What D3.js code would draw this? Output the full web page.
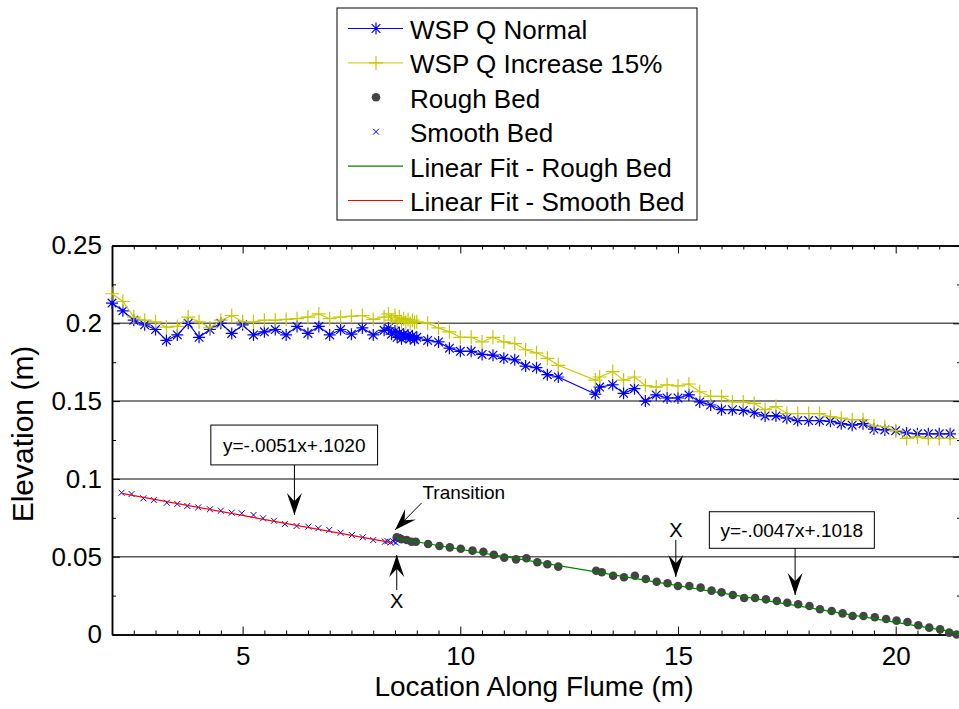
<!DOCTYPE html>
<html>
<head>
<meta charset="utf-8">
<script src="https://cdn.jsdelivr.net/npm/d3@7"></script>
<style>
  body { margin: 0; background: #fff; }
  svg { display: block; font-family: "Liberation Sans", Arial, Helvetica, sans-serif; }
</style>
</head>
<body>
<svg width="959" height="709"></svg>
<script>
// Water surface profiles (shared stations along the flume)
const wspX = [2.0, 2.25, 2.5, 2.75, 3.0, 3.25, 3.5, 3.75, 4.0, 4.25, 4.5, 4.75, 5.0, 5.25, 5.5, 5.75,
  6.0, 6.25, 6.5, 6.75, 7.0, 7.25, 7.5, 7.75, 8.0, 8.25,
  8.35, 8.42, 8.5, 8.55, 8.6, 8.65, 8.7, 8.75, 8.8, 8.85, 8.9, 8.95, 9.0,
  9.25, 9.5, 9.75, 10.0, 10.25, 10.5, 10.75, 11.0, 11.25, 11.5, 11.75, 12.0, 12.25,
  13.1, 13.2, 13.5, 13.75, 14.0, 14.25, 14.5, 14.75, 15.0, 15.25, 15.5, 15.75, 16.0, 16.25,
  16.5, 16.75, 17.0, 17.25, 17.5, 17.75, 18.0, 18.25, 18.5, 18.75, 19.0, 19.25, 19.5, 19.75,
  20.0, 20.25, 20.5, 20.75, 21.0, 21.25];
const wspNormal = [0.213, 0.208, 0.202, 0.199, 0.196, 0.189, 0.1925, 0.200, 0.191, 0.196, 0.200, 0.1935, 0.199, 0.1925, 0.1945, 0.196,
  0.1925, 0.198, 0.1935, 0.198, 0.1925, 0.196, 0.193, 0.197, 0.1925, 0.1955,
  0.197, 0.193, 0.195, 0.191, 0.194, 0.190, 0.193, 0.191, 0.1925, 0.190, 0.192, 0.1895, 0.191,
  0.189, 0.188, 0.184, 0.182, 0.182, 0.180, 0.1795, 0.1775, 0.1765, 0.1725, 0.1715, 0.167, 0.1655,
  0.1545, 0.159, 0.1605, 0.155, 0.158, 0.150, 0.154, 0.152, 0.152, 0.154, 0.1495, 0.1475, 0.1445, 0.1445,
  0.144, 0.1425, 0.1405, 0.1405, 0.139, 0.1375, 0.1375, 0.1375, 0.137, 0.1355, 0.1345, 0.1355, 0.132, 0.1315,
  0.131, 0.1295, 0.129, 0.129, 0.129, 0.129];
const wspIncrease = [0.219, 0.214, 0.204, 0.202, 0.201, 0.1975, 0.198, 0.204, 0.201, 0.197, 0.202, 0.205, 0.201, 0.201, 0.202, 0.202,
  0.2025, 0.203, 0.204, 0.206, 0.203, 0.204, 0.2045, 0.205, 0.2025, 0.204,
  0.206, 0.202, 0.205, 0.201, 0.204, 0.2005, 0.203, 0.2005, 0.2025, 0.200, 0.202, 0.2005, 0.201,
  0.200, 0.197, 0.1945, 0.191, 0.191, 0.188, 0.191, 0.188, 0.187, 0.183, 0.181, 0.1775, 0.173,
  0.1635, 0.1655, 0.169, 0.1635, 0.1655, 0.160, 0.159, 0.1605, 0.1597, 0.161, 0.156, 0.153, 0.153, 0.1495,
  0.1495, 0.1485, 0.1445, 0.1465, 0.142, 0.142, 0.142, 0.142, 0.140, 0.139, 0.138, 0.138, 0.134, 0.1335,
  0.131, 0.126, 0.127, 0.126, 0.126, 0.126];

// Bed elevations
const smoothX = [2.22, 2.45, 2.72, 2.96, 3.26, 3.5, 3.73, 3.98, 4.25, 4.5, 4.75, 4.98, 5.25, 5.47, 5.72, 5.97,
  6.24, 6.51, 6.74, 6.99, 7.25, 7.51, 7.76, 8.0, 8.27, 8.33, 8.4, 8.46, 8.52];
const smoothY = [0.0911, 0.0903, 0.0875, 0.0864, 0.0847, 0.0839, 0.0826, 0.0817, 0.0805, 0.0796, 0.0783, 0.0779, 0.0768, 0.0747, 0.0731, 0.0710,
  0.0697, 0.0693, 0.0683, 0.0672, 0.0654, 0.0639, 0.0625, 0.0607, 0.0596, 0.0600, 0.0592, 0.0598, 0.0590];
const roughX = [8.54, 8.6, 8.65, 8.77, 8.88, 8.98, 9.26, 9.52, 9.76, 10.01, 10.28, 10.53, 10.77, 11.01, 11.28, 11.52, 11.77, 12.0, 12.25,
  13.12, 13.25, 13.51, 13.76, 14.01, 14.26, 14.51, 14.76, 15.0, 15.26, 15.52, 15.77, 16.0, 16.26, 16.52, 16.77, 17.02, 17.27,
  17.51, 17.76, 18.02, 18.26, 18.53, 18.78, 19.01, 19.26, 19.52, 19.78, 20.02, 20.27, 20.52, 20.77, 21.02, 21.23, 21.4];
const roughY = [0.0625, 0.0620, 0.0612, 0.0607, 0.0596, 0.0596, 0.0582, 0.0569, 0.0560, 0.0551, 0.0539, 0.0532, 0.0513, 0.0494, 0.0483, 0.0490, 0.0464, 0.0451, 0.0436,
  0.0410, 0.0400, 0.0378, 0.0368, 0.0378, 0.0357, 0.0339, 0.0329, 0.0312, 0.0312, 0.0301, 0.0282, 0.0271, 0.0254, 0.0235, 0.0235, 0.0226, 0.0215,
  0.0204, 0.0194, 0.0183, 0.0162, 0.0151, 0.0136, 0.0119, 0.0119, 0.0111, 0.0100, 0.0089, 0.0080, 0.0059, 0.0044, 0.0033, 0.0012, 0.0];

// Linear fits (end points)
const fitSmoothX = [2.22, 8.45];
const fitSmoothY = [0.0907, 0.0589];
const fitRoughX = [8.54, 21.45];
const fitRoughY = [0.0617, 0.0010];

// Axis ticks
const xTicks = [5, 10, 15, 20];
const yTicks = [0, 0.05, 0.1, 0.15, 0.2, 0.25];
const gridY = [0.05, 0.1, 0.15, 0.2];

const legendLabels = ["WSP Q Normal", "WSP Q Increase 15%", "Rough Bed", "Smooth Bed",
  "Linear Fit - Rough Bed", "Linear Fit - Smooth Bed"];

const blue = "#0000ff", yellow = "#c8c800", dotColor = "#444444",
  green = "#008000", red = "#ff0000";

const svg = d3.select("svg");

// Plot area
const plotLeft = 112, plotRight = 961, plotTop = 245.5, plotBottom = 634.5;
const x = d3.scaleLinear().domain([2, 21.5]).range([plotLeft, plotRight]);
const y = d3.scaleLinear().domain([0, 0.25]).range([plotBottom, plotTop]);

// grid lines
svg.append("g").selectAll("line")
  .data(gridY)
  .join("line")
  .attr("x1", plotLeft).attr("x2", plotRight)
  .attr("y1", d => y(d)).attr("y2", d => y(d))
  .attr("stroke", "#5a5a5a")
  .attr("stroke-width", 1.5);

// minor ticks helpers
const xMinor = d3.range(2, 21.51, 0.5).filter(v => !xTicks.includes(v));
const yMinor = d3.range(0.025, 0.25, 0.05);

function styleAxis(g) {
  g.select(".domain").attr("stroke", "#000").attr("stroke-width", 1.5);
  g.selectAll(".tick line").attr("stroke", "#000").attr("stroke-width", 1);
  g.selectAll("text").attr("font-size", 26).attr("fill", "#000")
    .attr("font-family", "Liberation Sans, Arial, sans-serif");
}

// bottom
svg.append("g").attr("transform", `translate(0,${plotBottom})`)
  .call(d3.axisBottom(x).tickValues(xTicks).tickSize(-8).tickSizeOuter(0).tickPadding(12).tickFormat(d => String(d)))
  .call(styleAxis);
svg.append("g").attr("transform", `translate(0,${plotBottom})`)
  .call(d3.axisBottom(x).tickValues(xMinor).tickSize(-4).tickSizeOuter(0).tickFormat(""))
  .call(styleAxis);
// top
svg.append("g").attr("transform", `translate(0,${plotTop})`)
  .call(d3.axisTop(x).tickValues(xTicks).tickSize(-8).tickSizeOuter(0).tickFormat(""))
  .call(styleAxis);
svg.append("g").attr("transform", `translate(0,${plotTop})`)
  .call(d3.axisTop(x).tickValues(xMinor).tickSize(-4).tickSizeOuter(0).tickFormat(""))
  .call(styleAxis);
// left
svg.append("g").attr("transform", `translate(${plotLeft},0)`)
  .call(d3.axisLeft(y).tickValues(yTicks).tickSize(-8).tickSizeOuter(0).tickPadding(10).tickFormat(d => String(d)))
  .call(styleAxis);
svg.append("g").attr("transform", `translate(${plotLeft},0)`)
  .call(d3.axisLeft(y).tickValues(yMinor).tickSize(-4).tickSizeOuter(0).tickFormat(""))
  .call(styleAxis);
// right
svg.append("g").attr("transform", `translate(${plotRight},0)`)
  .call(d3.axisRight(y).tickValues(yTicks).tickSize(-8).tickSizeOuter(0).tickFormat(""))
  .call(styleAxis);
svg.append("g").attr("transform", `translate(${plotRight},0)`)
  .call(d3.axisRight(y).tickValues(yMinor).tickSize(-4).tickSizeOuter(0).tickFormat(""))
  .call(styleAxis);

// axis labels
svg.append("text")
  .attr("x", 534).attr("y", 696)
  .attr("text-anchor", "middle")
  .attr("font-size", 28)
  .text("Location Along Flume (m)");
svg.append("text")
  .attr("transform", "translate(33,434) rotate(-90)")
  .attr("text-anchor", "middle")
  .attr("font-size", 30)
  .text("Elevation (m)");

// marker painters
function asterisk(g, cx, cy, r, color) {
  const d = r * 0.72;
  g.append("path")
    .attr("d", `M${cx - r},${cy}H${cx + r}M${cx},${cy - r}V${cy + r}` +
      `M${cx - d},${cy - d}L${cx + d},${cy + d}M${cx - d},${cy + d}L${cx + d},${cy - d}`)
    .attr("stroke", color).attr("stroke-width", 1.2).attr("fill", "none");
}
function plus(g, cx, cy, r, color) {
  g.append("path")
    .attr("d", `M${cx - r},${cy}H${cx + r}M${cx},${cy - r}V${cy + r}`)
    .attr("stroke", color).attr("stroke-width", 1.2).attr("fill", "none");
}
function cross(g, cx, cy, r, color) {
  g.append("path")
    .attr("d", `M${cx - r},${cy - r}L${cx + r},${cy + r}M${cx - r},${cy + r}L${cx + r},${cy - r}`)
    .attr("stroke", color).attr("stroke-width", 1).attr("fill", "none");
}

const line = d3.line().x(d => x(d[0])).y(d => y(d[1]));

// WSP Q Normal
const normalPts = wspX.map((v, i) => [v, wspNormal[i]]);
const gN = svg.append("g");
gN.append("path").attr("d", line(normalPts)).attr("fill", "none").attr("stroke", blue).attr("stroke-width", 1.1);
normalPts.forEach(p => asterisk(gN, x(p[0]), y(p[1]), 6, blue));

// WSP Q Increase 15%
const incPts = wspX.map((v, i) => [v, wspIncrease[i]]);
const gI = svg.append("g");
gI.append("path").attr("d", line(incPts)).attr("fill", "none").attr("stroke", yellow).attr("stroke-width", 1.1);
incPts.forEach(p => plus(gI, x(p[0]), y(p[1]), 7, yellow));

// Rough bed
svg.append("g").selectAll("circle")
  .data(roughX.map((v, i) => [v, roughY[i]]))
  .join("circle")
  .attr("cx", d => x(d[0])).attr("cy", d => y(d[1]))
  .attr("r", 4.3)
  .attr("fill", dotColor);

// Smooth bed
const gS = svg.append("g");
smoothX.forEach((v, i) => cross(gS, x(v), y(smoothY[i]), 3, blue));

// fits
svg.append("path")
  .attr("d", line(fitRoughX.map((v, i) => [v, fitRoughY[i]])))
  .attr("stroke", green).attr("stroke-width", 1.2).attr("fill", "none");
svg.append("path")
  .attr("d", line(fitSmoothX.map((v, i) => [v, fitSmoothY[i]])))
  .attr("stroke", red).attr("stroke-width", 1.2).attr("fill", "none");

// annotation arrows
function arrow(x1, y1, x2, y2, headL, headW) {
  const ang = Math.atan2(y2 - y1, x2 - x1) * 180 / Math.PI;
  svg.append("line")
    .attr("x1", x1).attr("y1", y1).attr("x2", x2).attr("y2", y2)
    .attr("stroke", "#000").attr("stroke-width", 1);
  svg.append("path")
    .attr("d", `M0,0L${-headL},${-headW / 2}L${-headL * 0.62},0L${-headL},${headW / 2}Z`)
    .attr("transform", `translate(${x2},${y2}) rotate(${ang})`)
    .attr("fill", "#000");
}
function textBox(x0, y0, x1, y1, label) {
  svg.append("rect")
    .attr("x", x0).attr("y", y0).attr("width", x1 - x0).attr("height", y1 - y0)
    .attr("fill", "#fff").attr("stroke", "#000").attr("stroke-width", 1);
  svg.append("text")
    .attr("x", (x0 + x1) / 2).attr("y", (y0 + y1) / 2 + 7)
    .attr("text-anchor", "middle").attr("font-size", 19)
    .text(label);
}

// smooth bed fit
textBox(x(4.27), y(0.1346), x(8.10), y(0.1090), "y=-.0051x+.1020");
arrow(x(6.19), y(0.1090), x(6.19), y(0.0768), 22, 15);
// transition
svg.append("text").attr("x", x(9.13)).attr("y", y(0.087)).attr("font-size", 19).text("Transition");
arrow(x(9.11), y(0.0845), x(8.50), y(0.0672), 22, 15);
// X marks
arrow(x(8.54), y(0.0286), x(8.54), y(0.0511), 22, 15);
svg.append("text").attr("x", x(8.54)).attr("y", y(0.0170))
  .attr("text-anchor", "middle").attr("font-size", 20).text("X");
svg.append("text").attr("x", x(14.95)).attr("y", y(0.0625)).attr("text-anchor", "middle")
  .attr("font-size", 20).text("X");
arrow(x(14.95), y(0.0608), x(14.95), y(0.0370), 22, 15);
// rough bed fit
textBox(x(15.72), y(0.0789), x(19.51), y(0.0554), "y=-.0047x+.1018");
arrow(x(17.69), y(0.0554), x(17.69), y(0.0254), 22, 15);

// Legend
const legend = svg.append("g").attr("transform", "translate(337,8)");
legend.append("rect").attr("width", 360).attr("height", 212)
  .attr("fill", "#fff").attr("stroke", "#000").attr("stroke-width", 1);
const rowBase = 31, rowStep = 34.4;
legendLabels.forEach((lab, i) => {
  const by = rowBase + i * rowStep;
  const ly = by - 10.5;
  legend.append("text").attr("x", 73).attr("y", by).attr("font-size", 26).text(lab);
  if (i === 0) {
    legend.append("line").attr("x1", 11).attr("x2", 66).attr("y1", ly).attr("y2", ly).attr("stroke", blue);
    asterisk(legend, 39, ly, 6, blue);
  } else if (i === 1) {
    legend.append("line").attr("x1", 11).attr("x2", 66).attr("y1", ly).attr("y2", ly).attr("stroke", yellow);
    plus(legend, 39, ly, 7, yellow);
  } else if (i === 2) {
    legend.append("circle").attr("cx", 39).attr("cy", ly).attr("r", 4.3).attr("fill", dotColor);
  } else if (i === 3) {
    cross(legend, 39, ly, 3, blue);
  } else {
    legend.append("line").attr("x1", 11).attr("x2", 66).attr("y1", ly).attr("y2", ly)
      .attr("stroke", i === 4 ? green : red).attr("stroke-width", 1.2);
  }
});
</script>
</body>
</html>
